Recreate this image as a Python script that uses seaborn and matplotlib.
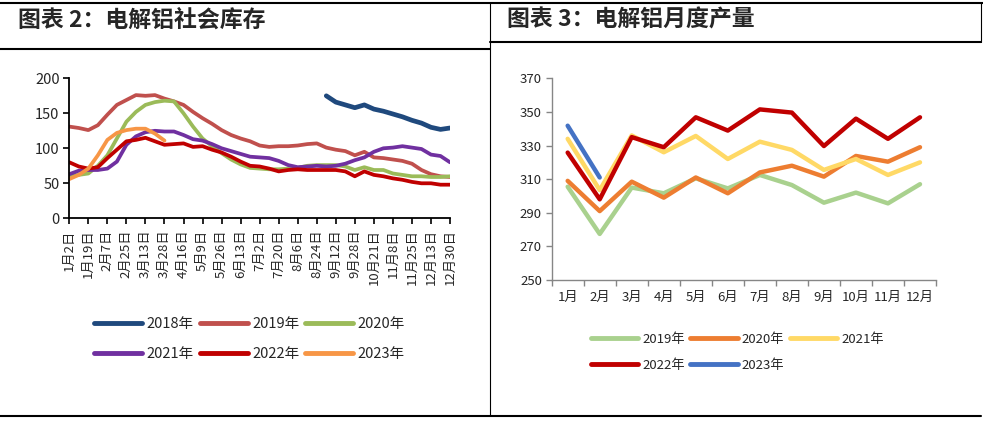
import matplotlib
matplotlib.use("Agg")
import matplotlib.pyplot as plt
import seaborn as sns
import pandas as pd
import numpy as np
from matplotlib.lines import Line2D

nan = np.nan

# ---- left chart: electrolytic aluminium social inventory (10k t) ----
date_labels = ["1月2日", "1月19日", "2月7日", "2月25日", "3月13日", "3月28日", "4月16日",
               "5月9日", "5月26日", "6月13日", "7月2日", "7月20日", "8月6日", "8月24日",
               "9月12日", "9月28日", "10月21日", "11月8日", "11月25日", "12月13日", "12月30日"]

# 41 readings, two per label interval
stock_2018 = [nan] * 27 + [175, 166, 162, 158, 162, 156, 153, 149, 145, 140, 136, 130, 127, 129]
stock_2019 = [131, 129, 126, 133, 148, 162, 169, 176, 175, 176, 171, 167, 162, 152, 143, 135,
              126, 119, 114, 110, 104, 102, 103, 103, 104, 106, 107, 101, 98, 96, 90, 95, 87,
              86, 84, 82, 78, 69, 63, 60, 59]
stock_2020 = [60, 62, 64, 75, 90, 114, 138, 152, 162, 166, 168, 167, 150, 131, 114, 103, 93,
              84, 77, 72, 71, 70, 70, 71, 72, 75, 76, 76, 76, 74, 69, 73, 69, 69, 64, 62, 60,
              60, 59, 59, 60]
stock_2021 = [63, 68, 69, 69, 71, 81, 105, 117, 123, 125, 124, 124, 119, 113, 111, 106, 100,
              96, 92, 88, 87, 86, 82, 76, 73, 74, 75, 74, 75, 78, 83, 87, 95, 100, 101, 103,
              101, 99, 91, 89, 80]
stock_2022 = [80, 74, 71, 73, 86, 98, 110, 112, 115, 110, 105, 106, 107, 102, 103, 98, 94,
              88, 81, 75, 74, 71, 67, 69, 70, 69, 69, 69, 69, 67, 60, 67, 62, 60, 57, 55, 52,
              50, 50, 48, 48]
stock_2023 = [56, 62, 71, 90, 112, 122, 126, 128, 128, 121, 111] + [nan] * 30

stock_years = ["2018年", "2019年", "2020年", "2021年", "2022年", "2023年"]
stock_series = [stock_2018, stock_2019, stock_2020, stock_2021, stock_2022, stock_2023]
stock_colors = ["#1F497D", "#C0504D", "#9BBB59", "#7030A0", "#C00000", "#F79646"]

# ---- right chart: monthly output (10k t) ----
months = ["1月", "2月", "3月", "4月", "5月", "6月", "7月", "8月", "9月", "10月", "11月", "12月"]
output_2019 = [305.5, 277.4, 305, 301.6, 310.5, 304.5, 312.5, 306.5, 296, 302, 295.6, 307]
output_2020 = [309, 291, 308.5, 299, 311, 301.6, 314, 318, 311.5, 323.8, 320.4, 329]
output_2021 = [334, 303.5, 336, 326, 335.7, 322, 332.3, 327.4, 315.5, 322, 312.5, 320]
output_2022 = [325.8, 298, 335, 329, 346.8, 338.9, 351.5, 349.6, 329.7, 346, 334, 346.8]
output_2023 = [341.8, 311] + [nan] * 10

output_years = ["2019年", "2020年", "2021年", "2022年", "2023年"]
output_series = [output_2019, output_2020, output_2021, output_2022, output_2023]
output_colors = ["#A9D18E", "#ED7D31", "#FFD966", "#C00000", "#4472C4"]

sns.set_theme(style="white")
plt.rcParams["font.family"] = ["Noto Sans CJK SC", "DejaVu Sans"]

fig = plt.figure(figsize=(9.83, 4.21), dpi=100)

# frame lines
for x0, x1, y in [(0, 1, 0.9929), (0, 0.4985, 0.8836), (0.4985, 0.998, 0.9002), (0, 0.998, 0.0119)]:
    fig.add_artist(Line2D([x0, x1], [y, y], transform=fig.transFigure, color="black", lw=1.5))
fig.add_artist(Line2D([0.4985, 0.4985], [0.0119, 0.9929], transform=fig.transFigure, color="black", lw=0.8))
fig.add_artist(Line2D([0.998, 0.998], [0.9002, 0.9929], transform=fig.transFigure, color="black", lw=0.8))

fig.text(0.018, 0.952, "图表 2：电解铝社会库存", fontsize=16.5, fontweight="bold", va="center", ha="left")
fig.text(0.516, 0.952, "图表 3：电解铝月度产量", fontsize=16.5, fontweight="bold", va="center", ha="left")

# ---- left ----
ax1 = fig.add_axes([0.0705, 0.4815, 0.3873, 0.3325])
idx = np.arange(len(stock_2019))
for year, vals, col in zip(stock_years, stock_series, stock_colors):
    lw = 3.4 if year == "2018年" else 2.7
    sns.lineplot(x=idx, y=vals, ax=ax1, color=col, linewidth=lw, label=year,
                 solid_capstyle="round", solid_joinstyle="round")
ax1.set_xlim(0, 40)
ax1.set_ylim(0, 200)
ax1.set_yticks([0, 50, 100, 150, 200])
ax1.set_xticks(idx[::2])
ax1.set_xticklabels(date_labels, rotation=90, fontsize=9.5)
ax1.tick_params(axis="y", labelsize=10.5, length=4, width=1.2, color="black", direction="out", left=True, pad=3)
ax1.tick_params(axis="x", length=4, width=1.2, color="black", direction="out", bottom=True, pad=4)
for s in ["top", "right"]:
    ax1.spines[s].set_visible(False)
for s in ["left", "bottom"]:
    ax1.spines[s].set_color("black")
    ax1.spines[s].set_linewidth(1.3)
ax1.set_xlabel("")
ax1.set_ylabel("")
h1, l1 = ax1.get_legend_handles_labels()
ax1.get_legend().remove()
order1 = [0, 3, 1, 4, 2, 5]
leg1 = fig.legend([h1[i] for i in order1], [l1[i] for i in order1], ncol=3, loc="center",
                  bbox_to_anchor=(0.254, 0.195), frameon=False, fontsize=10.5,
                  handlelength=3.3, handletextpad=0.3, columnspacing=0.4, labelspacing=1.1)
for ln in leg1.get_lines():
    ln.set_linewidth(3.5)
    ln.set_solid_capstyle("round")

# ---- right ----
ax2 = fig.add_axes([0.5612, 0.3349, 0.391, 0.4791])
mx = np.arange(len(months))
for year, vals, col in zip(output_years, output_series, output_colors):
    sns.lineplot(x=mx, y=vals, ax=ax2, color=col, linewidth=3.2, label=year,
                 solid_capstyle="round", solid_joinstyle="round")
ax2.set_xlim(-0.5, 11.5)
ax2.set_ylim(250, 370)
ax2.set_yticks(range(250, 371, 20))
ax2.set_xticks(mx)
ax2.set_xticklabels(months, fontsize=9.5)
ax2.set_xticks(np.arange(-0.5, 12, 1), minor=True)
ax2.tick_params(axis="x", which="major", length=0, pad=8)
ax2.tick_params(axis="x", which="minor", length=4, width=1, color="#868686", direction="out", bottom=True)
ax2.tick_params(axis="y", labelsize=9.5, length=4, width=1, color="#868686", direction="out", left=True, pad=3)
for s in ["top", "right"]:
    ax2.spines[s].set_visible(False)
for s in ["left", "bottom"]:
    ax2.spines[s].set_color("#868686")
    ax2.spines[s].set_linewidth(1)
ax2.set_xlabel("")
ax2.set_ylabel("")
h2, l2 = ax2.get_legend_handles_labels()
ax2.get_legend().remove()
order2 = [0, 3, 1, 4, 2]
leg2 = fig.legend([h2[i] for i in order2], [l2[i] for i in order2], ncol=3, loc="center",
                  bbox_to_anchor=(0.750, 0.163), frameon=False, fontsize=9.5,
                  handlelength=3.6, handletextpad=0.3, columnspacing=0.4, labelspacing=1.0)
for ln in leg2.get_lines():
    ln.set_linewidth(3.5)
    ln.set_solid_capstyle("round")

fig.savefig("out.png", dpi=100)
